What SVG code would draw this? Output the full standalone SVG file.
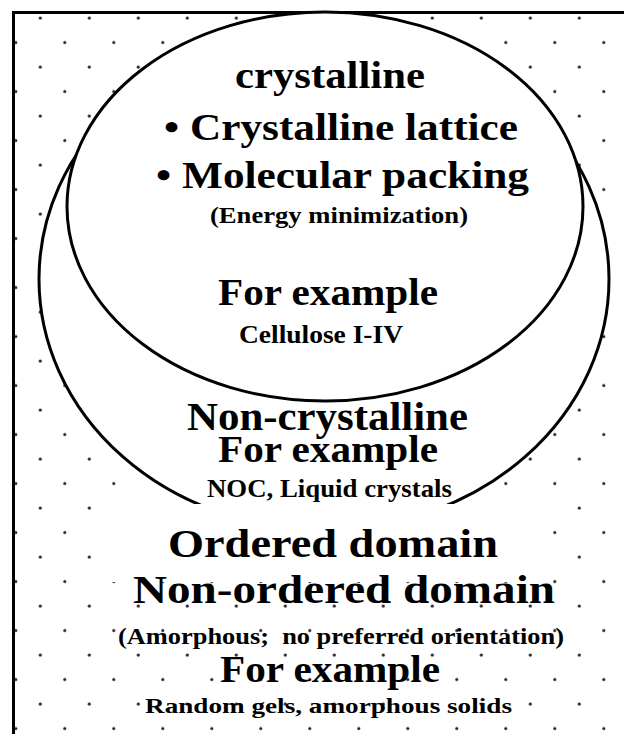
<svg xmlns="http://www.w3.org/2000/svg" width="624" height="734" viewBox="0 0 624 734">
  <defs>
    <pattern id="dots" patternUnits="userSpaceOnUse" x="28.05" y="5.75" width="49" height="49">
      <circle cx="12.25" cy="12.25" r="1.6" fill="#222"/>
      <circle cx="36.75" cy="36.75" r="1.6" fill="#222"/>
    </pattern>
    <style>
      .t { font-family: "Liberation Serif", "Times New Roman", serif; font-weight: bold; fill: #000; text-anchor: middle; }
      .big { font-size: 38px; }
      .mid { font-size: 25px; }
      .sm { font-size: 23px; }
      .shape { fill: #fff; stroke: #000; stroke-width: 3; }
      .frame { stroke: #000; stroke-width: 3; fill: none; }
    </style>
  </defs>

  <rect x="0" y="0" width="624" height="734" fill="#fff"/>
  <rect id="dotted-field" x="13" y="12" width="611" height="722" fill="url(#dots)"/>
  <g id="frame">
    <line class="frame" x1="12" y1="12.5" x2="624" y2="12.5"/>
    <line class="frame" x1="13.5" y1="11" x2="13.5" y2="734"/>
  </g>

  <g id="non-crystalline">
    <ellipse class="shape" cx="324" cy="279" rx="285" ry="251"/>
  </g>

  <g id="crystalline">
    <ellipse class="shape" cx="325" cy="206.5" rx="258" ry="194.5"/>
    <text class="t big" x="330" y="88" textLength="190" lengthAdjust="spacingAndGlyphs">crystalline</text>
    <text class="t big" x="341" y="140" textLength="354" lengthAdjust="spacingAndGlyphs">• Crystalline lattice</text>
    <text class="t big" x="342.5" y="188" textLength="373" lengthAdjust="spacingAndGlyphs">• Molecular packing</text>
    <text class="t sm" x="339" y="223" textLength="258" lengthAdjust="spacingAndGlyphs">(Energy minimization)</text>
    <text class="t big" x="328" y="305" textLength="220" lengthAdjust="spacingAndGlyphs">For example</text>
    <text class="t mid" x="321" y="343" textLength="164" lengthAdjust="spacingAndGlyphs">Cellulose I-IV</text>
  </g>

  <g id="non-crystalline-labels">
    <text class="t" style="font-size:39px" x="327.5" y="430" textLength="281" lengthAdjust="spacingAndGlyphs">Non-crystalline</text>
    <text class="t big" x="328" y="462" textLength="220" lengthAdjust="spacingAndGlyphs">For example</text>
    <text class="t mid" x="329.5" y="497" textLength="245" lengthAdjust="spacingAndGlyphs">NOC, Liquid crystals</text>
  </g>

  <g id="ordered-domain">
    <rect x="112" y="504" width="436" height="78" fill="#fff"/>
    <text class="t" style="font-size:40px" x="333" y="557" textLength="330" lengthAdjust="spacingAndGlyphs">Ordered domain</text>
  </g>

  <g id="non-ordered-domain">
    <text class="t" style="font-size:39px" x="344" y="603" textLength="422" lengthAdjust="spacingAndGlyphs">Non-ordered domain</text>
    <text class="t sm" x="341" y="644" textLength="446" lengthAdjust="spacingAndGlyphs" xml:space="preserve">(Amorphous;  no preferred orientation)</text>
    <text class="t big" x="330" y="682" textLength="220" lengthAdjust="spacingAndGlyphs">For example</text>
    <text class="t" style="font-size:22px" x="328.5" y="713" textLength="367" lengthAdjust="spacingAndGlyphs">Random gels, amorphous solids</text>
  </g>
</svg>
